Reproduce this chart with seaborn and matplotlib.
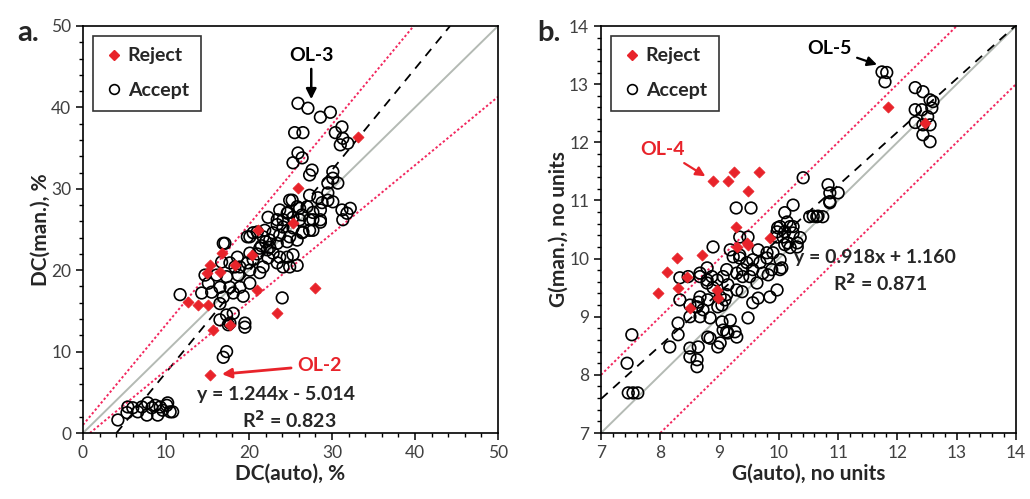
import numpy as np
import pandas as pd
import matplotlib
matplotlib.use("Agg")
import matplotlib.pyplot as plt
import seaborn as sns
from matplotlib.lines import Line2D
from matplotlib.ticker import MultipleLocator

sns.set_theme(style="ticks")
plt.rcParams["font.family"] = ["Lato", "DejaVu Sans"]

# ---------------------------------------------------------------------------
# Panel a: DC(auto) vs DC(man.), %
# ---------------------------------------------------------------------------
dc_accept_x = [25.9, 27.1, 28.6, 29.8, 25.5, 26.5, 31.2, 30.4, 31.3, 31.9, 31.0, 25.9, 26.4, 25.3,
               27.6, 27.3, 30.1, 30.1, 30.7, 29.5, 25.2, 27.3, 28.3, 29.5, 29.5, 30.1, 23.7, 24.7,
               26.1, 27.0, 27.7, 28.6, 31.2, 31.8, 32.2, 31.3, 22.3, 23.4, 24.1, 25.3, 26.1, 27.7,
               28.6, 19.8, 20.5, 21.9, 22.9, 23.7, 24.9, 26.4, 27.3, 16.9, 28.8, 24.9, 25.8, 24.6,
               26.4, 27.3, 28.6, 23.4, 24.1, 25.3, 26.5, 27.7, 21.0, 20.1, 21.7, 22.5, 23.4, 24.6,
               25.8, 21.3, 22.2, 22.9, 23.7, 24.6, 25.3, 22.3, 23.4, 20.5, 19.8, 21.7, 24.1, 24.9,
               25.8, 17.1, 20.1, 18.6, 17.7, 18.9, 20.1, 21.3, 16.7, 14.7, 16.1, 17.3, 18.7, 18.3,
               15.1, 16.5, 17.7, 18.9, 20.1, 15.5, 16.9, 18.1, 19.3, 14.3, 16.5, 17.3, 18.1, 16.5,
               19.5, 17.7, 11.7, 24.0, 17.5, 19.5, 17.3, 16.9, 21.5, 22.0, 21.0, 22.5,
               4.2, 5.3, 5.4, 6.6, 7.1, 7.7, 8.3, 8.7, 9.3, 9.6, 10.1, 10.5, 9.0, 10.2, 10.8, 7.8, 6.0]
dc_accept_y = [40.5, 39.9, 38.8, 39.4, 36.9, 36.9, 37.6, 36.9, 36.2, 35.6, 35.4, 34.4, 33.8, 33.2,
               32.3, 31.7, 32.1, 31.3, 30.7, 30.7, 28.6, 29.2, 28.9, 29.5, 28.6, 28.4, 27.4, 27.1,
               27.6, 27.8, 27.1, 27.4, 27.4, 27.0, 27.6, 26.2, 26.5, 26.2, 26.2, 26.5, 26.2, 26.2,
               26.2, 24.1, 24.6, 24.9, 24.6, 24.3, 24.1, 24.6, 24.9, 23.3, 28.3, 28.6, 27.8, 27.0,
               26.8, 26.2, 25.9, 25.6, 25.3, 25.2, 24.7, 24.9, 24.7, 24.1, 24.1, 23.7, 23.3, 23.5,
               23.7, 22.7, 22.5, 22.1, 21.6, 21.6, 21.9, 21.5, 20.9, 21.3, 20.9, 20.4, 20.4, 20.4,
               20.6, 23.3, 22.1, 21.6, 20.9, 20.4, 20.0, 19.7, 21.0, 19.4, 19.4, 19.2, 19.4, 20.4,
               18.4, 17.9, 17.9, 17.9, 18.4, 17.3, 16.7, 17.2, 16.8, 17.2, 15.9, 14.5, 14.7, 13.9,
               13.5, 13.5, 17.0, 16.6, 13.3, 13.0, 10.0, 9.3, 23.0, 23.5, 22.0, 22.8,
               1.6, 2.5, 3.2, 2.6, 3.2, 2.2, 3.1, 3.4, 3.2, 2.8, 3.4, 2.6, 2.2, 3.7, 2.6, 3.7, 3.1]
dc_reject_x = [25.9, 33.1, 21.1, 25.3, 20.4, 16.7, 15.3, 14.9, 12.7, 13.9, 15.1, 17.7, 21.0,
               28.0, 23.4, 15.7, 15.3, 18.3, 16.5]
dc_reject_y = [30.1, 36.4, 24.9, 25.8, 21.9, 22.1, 20.6, 19.7, 16.1, 15.7, 15.7, 13.3, 17.6,
               17.8, 14.7, 12.7, 7.1, 20.6, 19.8]

# fit line and bounds (slope, intercept)
dc_fit = (1.244, -5.014)
dc_upper = (1.23, 1.0)
dc_lower = (0.84, -0.7)

# ---------------------------------------------------------------------------
# Panel b: G(auto) vs G(man.), no units
# ---------------------------------------------------------------------------
g_accept_x = [11.74, 11.82, 11.79, 12.30, 12.43, 12.55, 12.60, 12.30, 12.41, 12.58, 12.51, 12.30,
              12.43, 12.55, 12.43, 12.55, 9.28, 9.53, 10.41, 10.83, 10.86, 11.00, 10.86, 10.52,
              10.64, 10.74, 10.10, 10.24, 10.14, 10.24, 10.10, 9.98, 9.97, 10.36, 8.89,
              7.52, 7.44, 7.46, 7.54, 7.62, 8.16, 8.30, 8.50, 8.64, 8.50, 8.62, 8.62, 8.80, 8.97,
              8.30, 8.50, 8.67, 8.84, 9.04, 9.06, 9.12, 9.26, 8.97, 9.04, 9.09, 9.12,
              9.48, 9.56, 9.65, 9.85, 9.97, 9.82, 10.02, 9.63, 9.29, 9.38, 9.14, 9.06,
              8.33, 8.50, 8.33, 8.47, 8.67, 8.79, 8.67, 8.80,
              9.34, 9.46, 9.39, 9.56, 9.68, 9.80, 9.90, 10.02, 10.10, 10.19, 10.31, 9.51, 9.73,
              9.88, 10.05, 10.58, 10.66, 10.86, 9.34, 9.48, 9.65, 9.80, 10.07, 10.15, 10.24, 10.31,
              9.97, 10.02, 10.19, 9.18, 9.23, 9.34, 9.12, 9.29, 9.39, 9.56,
              8.79, 8.67, 8.87, 8.96, 8.79, 8.89, 9.01, 8.64, 8.62, 8.72,
              9.18, 9.14, 9.29, 9.01, 8.84]
g_accept_y = [13.21, 13.20, 13.04, 12.94, 12.87, 12.73, 12.70, 12.56, 12.56, 12.59, 12.44, 12.34,
              12.30, 12.30, 12.13, 12.01, 10.87, 10.87, 11.39, 11.27, 11.13, 11.13, 10.98, 10.72,
              10.72, 10.72, 10.79, 10.92, 10.63, 10.55, 10.46, 10.53, 10.37, 10.36, 10.20,
              8.69, 8.20, 7.69, 7.69, 7.69, 8.48, 8.69, 8.46, 8.48, 8.31, 8.26, 8.14, 8.65, 8.48,
              8.89, 9.00, 9.00, 8.98, 8.91, 8.77, 8.74, 8.74, 9.17, 9.20, 9.29, 9.38,
              8.98, 9.24, 9.32, 9.34, 9.46, 9.72, 9.81, 9.58, 9.46, 9.43, 9.55, 9.69,
              9.29, 9.20, 9.67, 9.69, 9.75, 9.63, 9.34, 9.29,
              10.01, 9.93, 9.81, 9.98, 9.93, 10.01, 10.10, 9.98, 10.24, 10.19, 10.20, 9.69, 9.75,
              9.81, 9.84, 10.73, 10.73, 10.96, 10.37, 10.37, 10.15, 10.10, 10.37, 10.27, 10.44, 10.27,
              10.46, 10.55, 10.55, 10.15, 10.03, 10.06, 9.81, 9.75, 9.69, 9.81,
              9.84, 9.69, 9.69, 9.63, 9.58, 9.50, 9.34, 9.25, 9.17, 9.12,
              8.94, 8.72, 8.65, 8.55, 8.63]
g_reject_x = [11.84, 12.46, 8.89, 9.14, 9.24, 9.66, 9.48, 9.28, 9.85, 8.28, 8.70, 8.11, 7.96,
              8.30, 8.45, 8.96, 8.97, 9.46, 9.29, 9.48, 8.50]
g_reject_y = [12.61, 12.34, 11.34, 11.34, 11.49, 11.49, 11.17, 10.55, 10.36, 10.01, 10.06, 9.77,
              9.41, 9.50, 9.69, 9.46, 9.32, 10.27, 10.20, 10.24, 9.15]

g_fit = (0.918, 1.160)
g_upper = (1.0, 1.0)
g_lower = (1.0, -1.0)

RED = "#e8232a"
PINK = "#f2275e"


def draw_panel(ax, ax_x, ax_y, rx, ry, fit, upper, lower, lims, major, minor):
    lo, hi = lims
    ax.axline((lo, lo), slope=1, color="#b4bab4", lw=1.4, zorder=1)
    ax.axline((0, fit[1]), slope=fit[0], color="black", lw=1.3, ls=(0, (5, 4)), zorder=1)
    for m, b in (upper, lower):
        ax.axline((0, b), slope=m, color=PINK, lw=1.4, ls=(0, (1.2, 1.2)), zorder=1)

    acc = pd.DataFrame({"x": ax_x, "y": ax_y})
    rej = pd.DataFrame({"x": rx, "y": ry})
    sns.scatterplot(data=acc, x="x", y="y", ax=ax, marker="o", s=70,
                    fc="none", ec="black", linewidth=1.2, zorder=3)
    sns.scatterplot(data=rej, x="x", y="y", ax=ax, marker="D", s=32,
                    color=RED, ec=RED, linewidth=0.5, zorder=4)

    ax.set_xlim(lo, hi)
    ax.set_ylim(lo, hi)
    ax.xaxis.set_major_locator(MultipleLocator(major))
    ax.yaxis.set_major_locator(MultipleLocator(major))
    ax.xaxis.set_minor_locator(MultipleLocator(minor))
    ax.yaxis.set_minor_locator(MultipleLocator(minor))
    ax.tick_params(which="major", direction="out", length=5, width=1.1,
                   labelsize=12.5, labelcolor="#404040", color="black")
    ax.tick_params(which="minor", direction="out", length=3, width=1.0, color="black")
    for sp in ax.spines.values():
        sp.set_visible(True)
        sp.set_color("black")
        sp.set_linewidth(1.2)

    handles = [
        Line2D([], [], marker="D", ls="none", color=RED, markersize=5),
        Line2D([], [], marker="o", ls="none", mfc="none", mec="black", markersize=7, mew=1.2),
    ]
    leg = ax.legend(handles, ["Reject", "Accept"], loc="upper left", frameon=True,
                    fancybox=False, edgecolor="black", borderaxespad=0.5,
                    borderpad=0.6, handletextpad=0.2, handlelength=1.0, labelspacing=0.9,
                    prop={"weight": "bold", "size": 14})
    leg.get_frame().set_linewidth(1.2)


fig = plt.figure(figsize=(10.3, 4.99), dpi=100)
ax1 = fig.add_axes([83 / 1030, 1 - 433 / 499, 415 / 1030, 407 / 499])
ax2 = fig.add_axes([601 / 1030, 1 - 433 / 499, 415 / 1030, 407 / 499])

draw_panel(ax1, dc_accept_x, dc_accept_y, dc_reject_x, dc_reject_y,
           dc_fit, dc_upper, dc_lower, (0, 50), 10, 2)
draw_panel(ax2, g_accept_x, g_accept_y, g_reject_x, g_reject_y,
           g_fit, g_upper, g_lower, (7, 14), 1, 0.2)

ax1.set_xlabel("DC(auto), %", fontsize=15, weight="bold", labelpad=2)
ax1.set_ylabel("DC(man.), %", fontsize=15, weight="bold", labelpad=0)
ax2.set_xlabel("G(auto), no units", fontsize=15, weight="bold", labelpad=2)
ax2.set_ylabel("G(man.), no units", fontsize=15, weight="bold", labelpad=0)

# annotations panel a
ax1.annotate("OL-3", xy=(27.5, 41.0), xytext=(27.5, 45.3), ha="center", va="bottom",
             fontsize=14, weight="bold", color="black",
             arrowprops=dict(arrowstyle="-|>", color="black", lw=1.8, mutation_scale=15,
                             shrinkA=1, shrinkB=0))
ax1.annotate("OL-2", xy=(16.4, 7.2), xytext=(25.8, 8.3), ha="left", va="center",
             fontsize=14, weight="bold", color=RED,
             arrowprops=dict(arrowstyle="-|>", color=RED, lw=2.0, mutation_scale=14))
ax1.text(23.2, 4.7, "y = 1.244x - 5.014", ha="center", va="center", fontsize=14, weight="bold")
ax1.text(24.8, 1.6, "R$^\\mathbf{2}$ = 0.823", ha="center", va="center", fontsize=14, weight="bold")

# annotations panel b
ax2.annotate("OL-5", xy=(11.70, 13.32), xytext=(11.22, 13.62), ha="right", va="center",
             fontsize=14, weight="bold", color="black",
             arrowprops=dict(arrowstyle="-|>", color="black", lw=1.6, mutation_scale=14))
ax2.annotate("OL-4", xy=(8.80, 11.39), xytext=(8.42, 11.87), ha="right", va="center",
             fontsize=14, weight="bold", color=RED,
             arrowprops=dict(arrowstyle="-|>", color=RED, lw=1.6, mutation_scale=14))
ax2.text(11.62, 10.01, "y = 0.918x + 1.160", ha="center", va="center", fontsize=14, weight="bold")
ax2.text(11.70, 9.58, "R$^\\mathbf{2}$ = 0.871", ha="center", va="center", fontsize=14, weight="bold")

fig.text(17 / 1030, 1 - 33 / 499, "a.", fontsize=21, weight="bold", va="center")
fig.text(537 / 1030, 1 - 33 / 499, "b.", fontsize=21, weight="bold", va="center")

fig.savefig("out.png", dpi=100)
